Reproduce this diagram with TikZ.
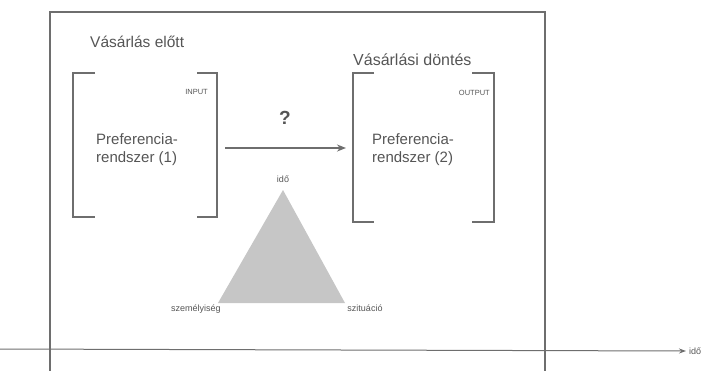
\documentclass[tikz,border=0pt]{standalone}
\usepackage{fontspec}
\setmainfont{Liberation Sans}
\usetikzlibrary{arrows.meta}
\definecolor{ink}{HTML}{555555}
\definecolor{rule}{HTML}{6E6E6E}
\definecolor{wedge}{HTML}{C6C6C6}
\tikzset{
  frame/.style={draw=rule, line width=1.3pt},
  brack/.style={draw=rule, line width=1.6pt},
  lbl/.style={text=ink, font=\fontsize{15.5}{18}\selectfont, inner sep=0pt},
  tiny/.style={text=ink, font=\fontsize{7.5}{8}\selectfont, inner sep=0pt},
  corner/.style={text=ink, font=\fontsize{9}{10}\selectfont, inner sep=0pt},
  box/.style={text=ink, font=\fontsize{15}{18}\selectfont, align=left, inner sep=0pt},
}
\begin{document}
\begin{tikzpicture}[x=1pt, y=-1pt]
\useasboundingbox (0,0) rectangle (715,370);
% outer frame
\draw[frame] (50,372) -- (50,12) -- (545,12) -- (545,372);
% time axis
\coordinate (t0) at (0,349);
\node[corner, anchor=west] (tl) at (689,351) {idő};
\draw[rule, line width=1pt, -{Stealth[length=7pt,width=5pt]}] (t0) -- ([xshift=-3pt]tl.west);
% headings
\node[lbl, anchor=west] (h1) at (90,42) {Vásárlás előtt};
\node[lbl, anchor=west, font=\fontsize{16}{18}\selectfont] (h2) at (353,60) {Vásárlási döntés};
% left bracket pair
\draw[brack] (95,73) -- (73,73) -- (73,217) -- (95,217);
\draw[brack] (197,73) -- (217,73) -- (217,217) -- (197,217);
\node[tiny, anchor=east] (in) at (208,92) {INPUT};
\node[box, anchor=west] (p1) at (96,150) {Preferencia-\\rendszer (1)};
% right bracket pair
\draw[brack] (374,73) -- (353,73) -- (353,222) -- (374,222);
\draw[brack] (472,73) -- (494,73) -- (494,222) -- (472,222);
\node[tiny, anchor=east] (out) at (490,93) {OUTPUT};
\node[box, anchor=west] (p2) at (372,150) {Preferencia-\\rendszer (2)};
% transition arrow
\coordinate (a0) at (225,148);
\coordinate (a1) at (346,148);
\draw[rule, line width=1.6pt, -{Stealth[length=9pt,width=7pt]}] (a0) -- (a1);
\node[text=ink, font=\bfseries\fontsize{19}{21}\selectfont] (q) at (285,118) {?};
% influence triangle
\coordinate (top) at (283,190);
\coordinate (bl) at (218,303);
\coordinate (br) at (345,303);
\fill[wedge] (top) -- (bl) -- (br) -- cycle;
\node[corner] (tt) at (283,179) {idő};
\node[corner] (tbl) at (196,309) {személyiség};
\node[corner] (tbr) at (365,308) {szituáció};
\end{tikzpicture}
\end{document}
